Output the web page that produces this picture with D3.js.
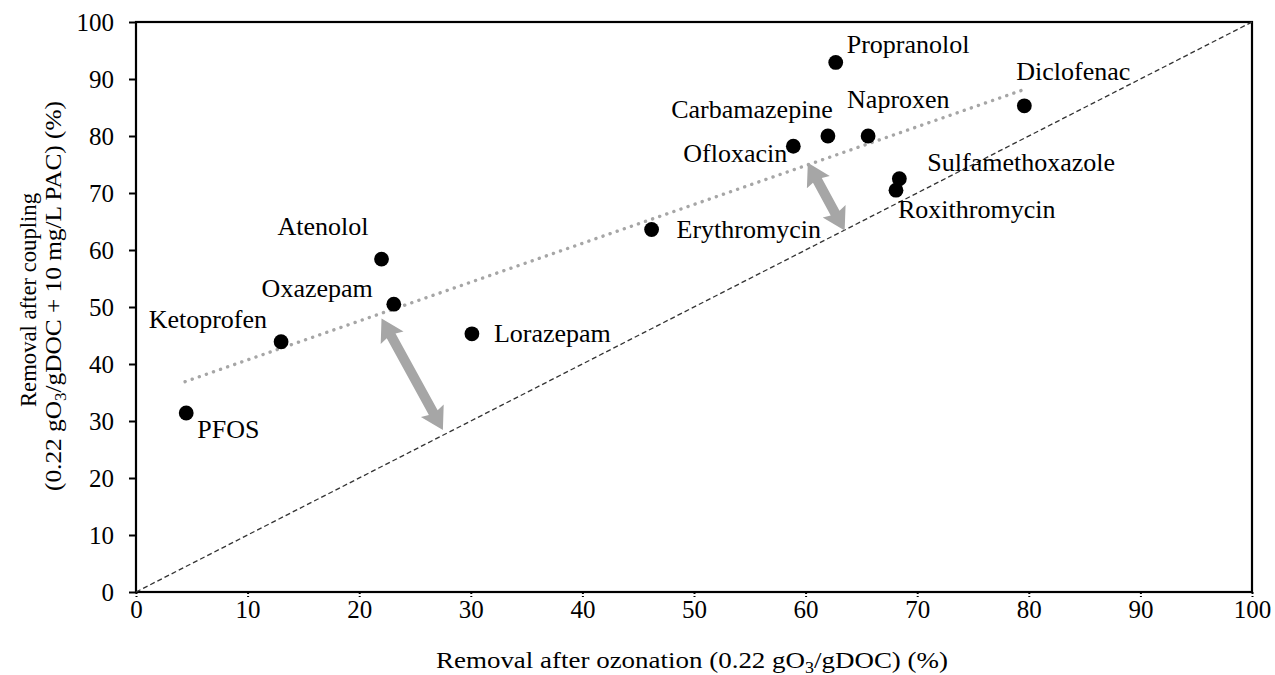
<!DOCTYPE html>
<html><head><meta charset="utf-8">
<script src="https://cdn.jsdelivr.net/npm/d3@7"></script>
<style>body{margin:0;background:#fff}svg{display:block}text{font-family:"Liberation Serif","Times New Roman",serif;fill:#000}</style>
</head><body><svg id="c" width="1275" height="675"></svg>
<script>
const compounds = ["PFOS","Ketoprofen","Atenolol","Oxazepam","Lorazepam","Erythromycin","Ofloxacin","Carbamazepine","Naproxen","Propranolol","Sulfamethoxazole","Roxithromycin","Diclofenac"];
const ozonation = [4.5,13.0,22.0,23.1,30.1,46.2,58.9,62.0,65.6,62.7,68.4,68.1,79.6];
const coupling  = [31.4,43.9,58.4,50.5,45.3,63.6,78.2,80.0,80.0,92.9,72.5,70.5,85.3];
const trendX = [4.4,79.5];
const trendY = [36.9,88.1];
const diagX = [0,100];
const diagY = [0,100];
const arrowFrom = [[22.0,48.0],[60.2,75.3]];
const arrowTo   = [[27.5,28.4],[63.5,63.4]];
const xTicks = [0,10,20,30,40,50,60,70,80,90,100];
const yTicks = [0,10,20,30,40,50,60,70,80,90,100];

// label placement (pixel offsets, anchor)
const labelPos = {
  "PFOS":[11,25,"start"], "Ketoprofen":[-14,-14,"end"], "Atenolol":[-13,-24,"end"],
  "Oxazepam":[-21,-7,"end"], "Lorazepam":[22,8,"start"], "Erythromycin":[25,9,"start"],
  "Ofloxacin":[-6,16,"end"], "Carbamazepine":[5,-18,"end"], "Naproxen":[-21,-28,"start"],
  "Propranolol":[11,-9,"start"], "Sulfamethoxazole":[28,-8,"start"], "Roxithromycin":[2,28,"start"],
  "Diclofenac":[-8,-26,"start"]
};

const svg = d3.select("#c");
const L=136,R=1252,T=22,B=592;
const x = d3.scaleLinear().domain([0,100]).range([L,R]);
const y = d3.scaleLinear().domain([0,100]).range([B,T]);

// axes
const xa = svg.append("g").attr("transform",`translate(0,${B})`)
  .call(d3.axisBottom(x).tickValues(xTicks).tickSize(5).tickPadding(6));
const ya = svg.append("g").attr("transform",`translate(${L},0)`)
  .call(d3.axisLeft(y).tickValues(yTicks).tickSize(7).tickPadding(15));
[xa,ya].forEach(g=>{
  g.select(".domain").remove();
  g.selectAll("text").style("font-size","25px").style("font-family",'"Liberation Serif",serif').attr("fill","#000");
  g.selectAll("line").attr("stroke","#000").attr("stroke-width",2);
});
xa.selectAll("line").attr("stroke-dasharray","2,2");
xa.selectAll("text").attr("dy","0.6em");
ya.selectAll("text").attr("dy","0.34em");

// border
svg.append("rect").attr("x",L).attr("y",T).attr("width",R-L).attr("height",B-T)
  .attr("fill","none").attr("stroke","#000").attr("stroke-width",2.2);

const line = d3.line().x(d=>x(d[0])).y(d=>y(d[1]));
// diagonal 1:1
svg.append("path").datum(d3.zip(diagX,diagY)).attr("d",line)
  .attr("fill","none").attr("stroke","#333").attr("stroke-width",1.3).attr("stroke-dasharray","5,3");
// trend
svg.append("path").datum(d3.zip(trendX,trendY)).attr("d",line)
  .attr("fill","none").attr("stroke","#a6a6a6").attr("stroke-width",3.4)
  .attr("stroke-linecap","round").attr("stroke-dasharray","0.1,7.4");

// double-headed arrows
function arrowPoly(p0,p1){
  const x0=x(p0[0]),y0=y(p0[1]),x1=x(p1[0]),y1=y(p1[1]);
  const dx=x1-x0,dy=y1-y0,len=Math.hypot(dx,dy),ux=dx/len,uy=dy/len,nx=-uy,ny=ux;
  const hl=22,hw=13,sw=5;
  const P=(a,b)=>[x0+ux*a+nx*b,y0+uy*a+ny*b];
  return [P(0,0),P(hl,hw),P(hl-2,sw),P(len-hl+2,sw),P(len-hl,hw),P(len,0),P(len-hl,-hw),P(len-hl+2,-sw),P(hl-2,-sw),P(hl,-hw)];
}
svg.selectAll(".arr").data(d3.zip(arrowFrom,arrowTo)).enter().append("polygon")
  .attr("points",d=>arrowPoly(d[0],d[1]).map(p=>p.join(",")).join(" "))
  .attr("fill","#a6a6a6");

// points
const data = compounds.map((c,i)=>({c,x:ozonation[i],y:coupling[i]}));
svg.selectAll(".pt").data(data).enter().append("circle")
  .attr("cx",d=>x(d.x)).attr("cy",d=>y(d.y)).attr("r",7.4).attr("fill","#000");
svg.selectAll(".lb").data(data).enter().append("text")
  .attr("x",d=>x(d.x)+labelPos[d.c][0]).attr("y",d=>y(d.y)+labelPos[d.c][1])
  .attr("text-anchor",d=>labelPos[d.c][2]).style("font-size","26px").text(d=>d.c);

// axis titles
const xt = svg.append("text").attr("x",(L+R)/2-2).attr("y",668).attr("text-anchor","middle")
  .style("font-size","24px").attr("textLength",512).attr("lengthAdjust","spacingAndGlyphs");
xt.append("tspan").text("Removal after ozonation (0.22 gO");
xt.append("tspan").text("3").style("font-size","16px").attr("dy",5);
xt.append("tspan").text("/gDOC) (%)").attr("dy",-5);

const yt = svg.append("g").attr("transform","translate(0,300) rotate(-90)");
yt.append("text").attr("x",0).attr("y",36).attr("text-anchor","middle").style("font-size","24px")
  .attr("textLength",214).attr("lengthAdjust","spacingAndGlyphs").text("Removal after coupling");
const y2 = yt.append("text").attr("x",4).attr("y",61).attr("text-anchor","middle").style("font-size","24px")
  .attr("textLength",390).attr("lengthAdjust","spacingAndGlyphs");
y2.append("tspan").text("(0.22 gO");
y2.append("tspan").text("3").style("font-size","16px").attr("dy",5);
y2.append("tspan").text("/gDOC + 10 mg/L PAC) (%)").attr("dy",-5);
</script></body></html>
